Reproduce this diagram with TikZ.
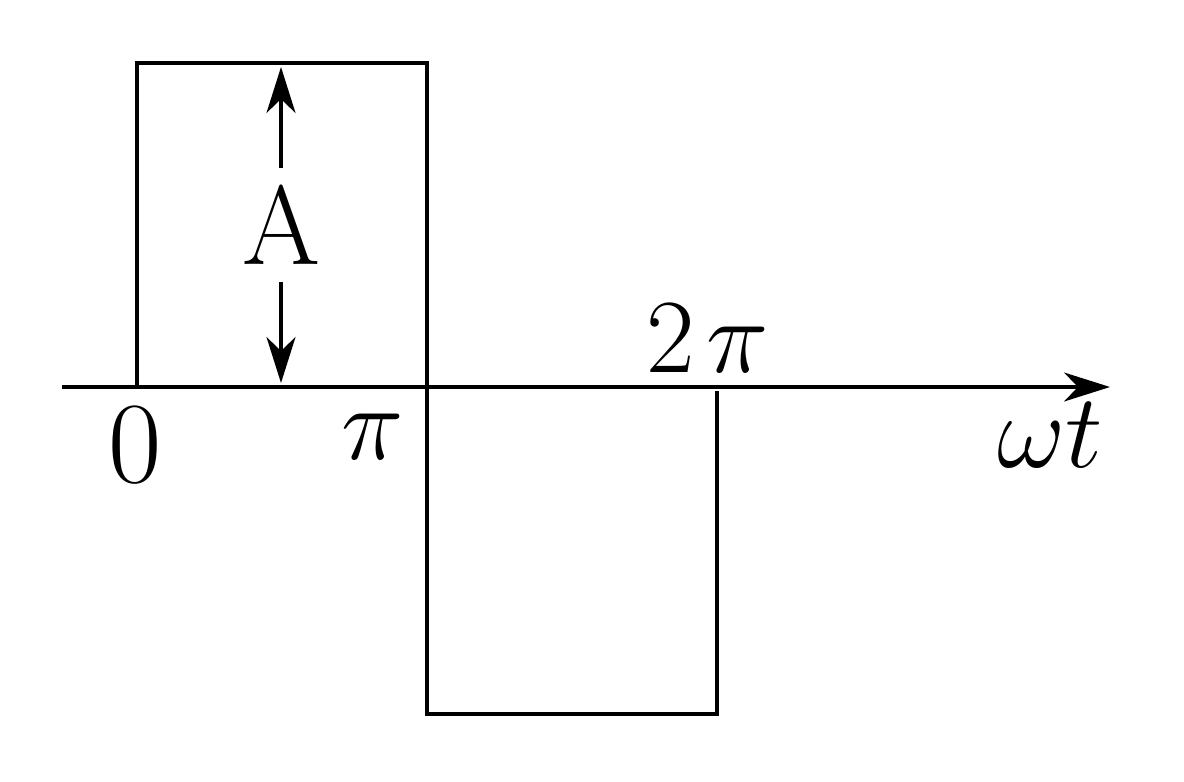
\RequirePackage{fix-cm}
\documentclass[tikz,border=0pt]{standalone}
\usetikzlibrary{arrows.meta}

\begin{document}
\begin{tikzpicture}[
    wave/.style={line width=0.9pt, line join=miter},
    arrow/.style={-{Stealth[length=4.6mm, width=2.9mm, inset=1.4mm]}, line width=0.9pt},
    lbl/.style={font=\fontsize{33}{38}\selectfont, inner sep=0pt, anchor=base},
    mlbl/.style={lbl, font=\fontsize{30}{34}\selectfont}
]
\useasboundingbox (0,0) rectangle (11.84,7.81);

% Axis
\coordinate (ax0) at (0.62, 3.94);
\coordinate (ax1) at (11.10, 3.94);
\draw[arrow] (ax0) -- (ax1);

% Square wave
\coordinate (w0) at (1.37, 3.94);
\coordinate (w1) at (1.37, 7.18);
\coordinate (w2) at (4.27, 7.18);
\coordinate (w3) at (4.27, 0.67);
\coordinate (w4) at (7.17, 0.67);
\coordinate (w5) at (7.17, 3.90);
\draw[wave] (w0) -- (w1) -- (w2) -- (w3) -- (w4) -- (w5);

% Amplitude
\node[font=\fontsize{32}{38}\selectfont, inner sep=0.17cm] (amp) at (2.81, 5.56) {A};
\coordinate (ampTop) at (2.81, 7.14);
\coordinate (ampBot) at (2.81, 3.98);
\draw[arrow] (amp.north) -- (ampTop);
\draw[arrow] (amp.south) -- (ampBot);

% Labels
\node[lbl] (zero) at (1.35, 2.99) {0};
\node[mlbl] (pi) at (3.73, 3.22) {$\pi$};
\node[mlbl] (twopi) at (7.08, 4.09) {$2\mkern2mu\pi$};
\node[mlbl] (wt) at (10.50, 3.14) {$\omega t$};

\end{tikzpicture}
\end{document}
